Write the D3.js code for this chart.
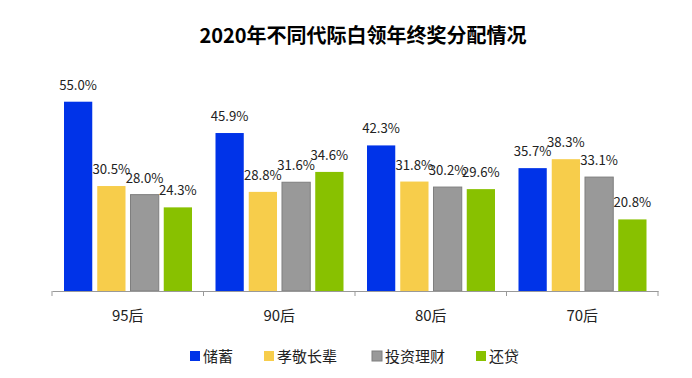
<!DOCTYPE html>
<html><head><meta charset="utf-8">
<script src="https://cdn.jsdelivr.net/npm/d3@7"></script>
<style>body{margin:0;background:#fff;}svg{display:block;font-family:"Noto Sans CJK SC","Noto Sans",sans-serif;}</style>
</head><body>
<svg id="c" width="692" height="378"></svg>
<script>
const title = "2020年不同代际白领年终奖分配情况";
const categories = ["95后","90后","80后","70后"];
const seriesNames = ["储蓄","孝敬长辈","投资理财","还贷"];
const seriesColors = ["#0033e8","#f7cd4b","#999999","#88c100"];
const savings   = [55.0, 45.9, 42.3, 35.7];
const elders    = [30.5, 28.8, 31.8, 38.3];
const invest    = [28.0, 31.6, 30.2, 33.1];
const loans     = [24.3, 34.6, 29.6, 20.8];
const series = [savings, elders, invest, loans];

const svg = d3.select("#c");
const x0 = d3.scaleBand().domain(categories).range([52, 658]).paddingInner(0).paddingOuter(0);
const x1 = d3.scaleBand().domain(seriesNames).range([12, 140]).paddingInner(0.15).paddingOuter(0);
const y = d3.scaleLinear().domain([0, 60]).range([291, 84.5]);

svg.append("text").attr("x", 363).attr("y", 43).attr("text-anchor","middle")
  .attr("font-size", 20).attr("font-weight","bold").attr("fill","#000").text(title);

categories.forEach((c, ci) => {
  const g = svg.append("g").attr("transform", `translate(${x0(c)},0)`);
  series.forEach((vals, si) => {
    const v = vals[ci];
    g.append("rect").attr("x", x1(seriesNames[si])).attr("y", y(v))
      .attr("width", x1.bandwidth()).attr("height", y(0) - y(v))
      .attr("fill", seriesColors[si])
      .attr("stroke", si === 2 ? "#7f7f7f" : "none").attr("stroke-width", 1);
    g.append("text").attr("x", x1(seriesNames[si]) + x1.bandwidth()/2).attr("y", y(v) - 12)
      .attr("text-anchor","middle").attr("font-size", 13.2).attr("fill","#222")
      .text(v.toFixed(1) + "%");
  });
});

const axis = d3.axisBottom(x0).tickSize(0).tickFormat(d => d);
const ag = svg.append("g").attr("transform", `translate(0,${y(0)})`).call(axis);
ag.select(".domain").attr("stroke","#999");
ag.selectAll(".tick text").attr("font-size", 15).attr("fill","#222").attr("y", 0).attr("dy", 30)
  .attr("font-family","\"Noto Sans CJK SC\",sans-serif");
const bounds = [...categories.map(c => x0(c)), x0.range()[1]];
ag.selectAll(".bnd").data(bounds).join("line").attr("class","bnd")
  .attr("x1", d => d).attr("x2", d => d).attr("y1", 0).attr("y2", 5).attr("stroke","#999");

const legendX = [190, 264, 372, 476];
const lg = svg.append("g");
seriesNames.forEach((n, i) => {
  lg.append("rect").attr("x", legendX[i]).attr("y", 351).attr("width", 10).attr("height", 10)
    .attr("fill", seriesColors[i]).attr("stroke", i === 2 ? "#7f7f7f" : "none");
  lg.append("text").attr("x", legendX[i] + 13).attr("y", 362).attr("font-size", 15)
    .attr("fill","#222").text(n);
});
</script>
</body></html>
